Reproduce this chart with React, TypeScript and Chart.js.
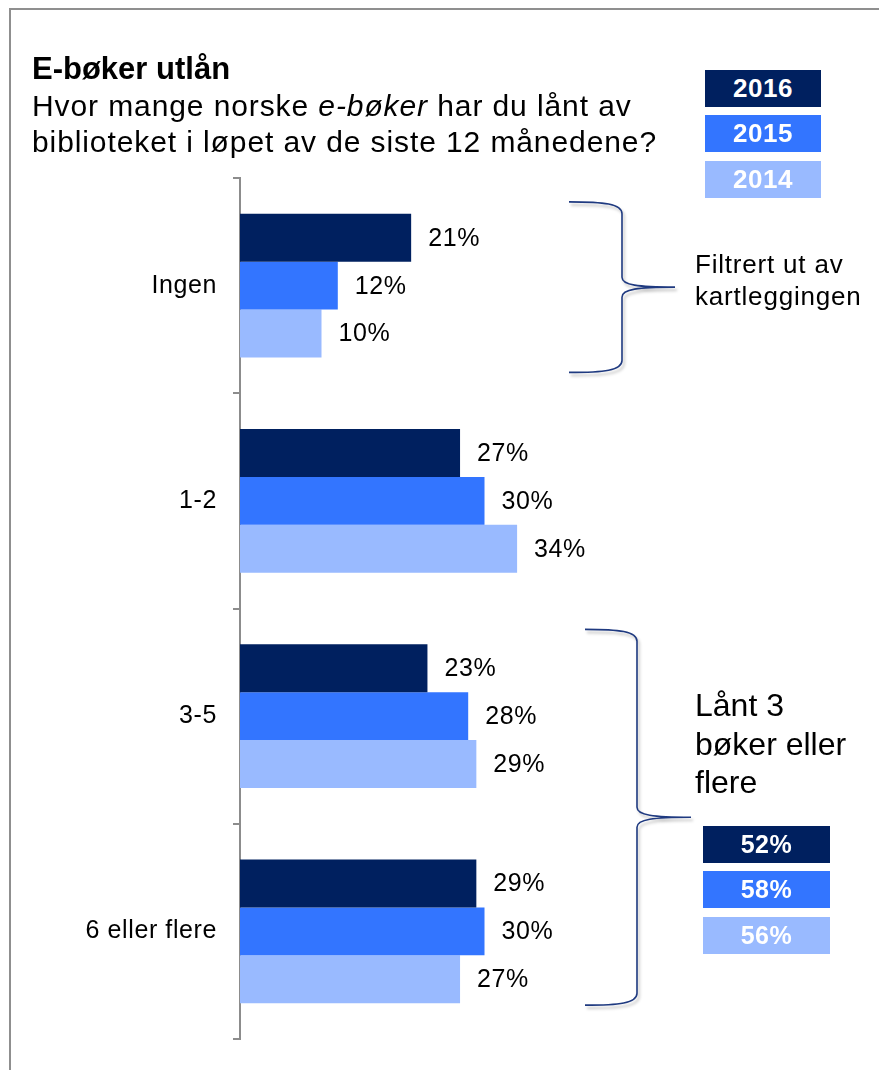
import React, { useEffect, useRef } from "react";
import { Chart, registerables } from "chart.js";

Chart.register(...registerables);

const categories = ["Ingen", "1-2", "3-5", "6 eller flere"];
const years = ["2016", "2015", "2014"];
const values2016 = [21, 27, 23, 29];
const values2015 = [12, 30, 28, 30];
const values2014 = [10, 34, 29, 27];
const yearColors = ["#00205F", "#3375FF", "#99BAFF"];
const summaryValues = [52, 58, 56];

const FONT = "'Liberation Sans', Arial, sans-serif";

const spacingPlugin = {
  id: "letterSpacing",
  beforeDraw(chart: any) {
    chart.ctx.letterSpacing = "0.6px";
  },
};

const dataLabelPlugin = {
  id: "dataLabels",
  afterDatasetsDraw(chart: any) {
    const ctx = chart.ctx;
    ctx.save();
    ctx.font = `25px ${FONT}`;
    ctx.letterSpacing = "0.6px";
    ctx.fillStyle = "#000";
    ctx.textAlign = "left";
    ctx.textBaseline = "middle";
    chart.data.datasets.forEach((ds: any, di: number) => {
      const meta = chart.getDatasetMeta(di);
      meta.data.forEach((el: any, i: number) => {
        ctx.fillText(`${ds.data[i]}%`, el.x + 17, el.y + 1);
      });
    });
    ctx.restore();
  },
};

function drawBrace(ctx: any, x0: number, x1: number, x2: number, top: number, bottom: number) {
  const mid = (top + bottom) / 2;
  ctx.beginPath();
  ctx.moveTo(x0, top);
  ctx.bezierCurveTo(x1 - 18, top, x1, top + 2, x1, top + 12);
  ctx.lineTo(x1, mid - 10);
  ctx.bezierCurveTo(x1, mid - 2, x1 + 16, mid, x2, mid);
  ctx.moveTo(x2, mid);
  ctx.bezierCurveTo(x1 + 16, mid, x1, mid + 2, x1, mid + 10);
  ctx.lineTo(x1, bottom - 12);
  ctx.bezierCurveTo(x1, bottom - 2, x1 - 18, bottom, x0, bottom);
  ctx.stroke();
}

const bracePlugin = {
  id: "braces",
  afterDraw(chart: any) {
    const ctx = chart.ctx;
    const y = chart.scales.y;
    const half = (y.getPixelForValue(1) - y.getPixelForValue(0)) / 2;
    const barHalf = half * 0.667;
    ctx.save();
    ctx.strokeStyle = "#1F3A80";
    ctx.lineWidth = 1.6;
    ctx.shadowColor = "rgba(0,0,0,0.25)";
    ctx.shadowBlur = 3;
    ctx.shadowOffsetX = 2;
    ctx.shadowOffsetY = 3;
    drawBrace(ctx, 569, 622, 675, y.getPixelForValue(0) - barHalf - 12, y.getPixelForValue(0) + barHalf + 15);
    drawBrace(ctx, 585, 637, 691, y.getPixelForValue(2) - barHalf - 15, y.getPixelForValue(3) + barHalf + 2);
    ctx.restore();
  },
};

export default function App() {
  const ref = useRef<HTMLCanvasElement>(null);

  useEffect(() => {
    if (!ref.current) return;
    const chart = new Chart(ref.current, {
      type: "bar",
      data: {
        labels: categories,
        datasets: [values2016, values2015, values2014].map((d, i) => ({
          label: years[i],
          data: d,
          backgroundColor: yearColors[i],
          borderWidth: 0,
          categoryPercentage: 0.667,
          barPercentage: 1,
        })),
      },
      options: {
        indexAxis: "y",
        responsive: false,
        animation: false,
        layout: { padding: { top: 178, bottom: 29, left: 0, right: 150 } },
        plugins: {
          legend: { display: false },
          title: { display: false },
          tooltip: { enabled: false },
        },
        scales: {
          x: { display: false, min: 0, max: 60 },
          y: {
            grid: {
              drawOnChartArea: false,
              drawTicks: true,
              tickLength: 7,
              color: "#8c8c8c",
              lineWidth: 2,
              offset: true,
            },
            border: { display: true, color: "#8c8c8c", width: 2 },
            ticks: {
              color: "#000",
              font: { family: FONT, size: 25 },
              padding: 16,
            },
            afterFit(scale: any) {
              scale.width = 240;
            },
          },
        },
      },
      plugins: [spacingPlugin, dataLabelPlugin, bracePlugin],
    });
    return () => chart.destroy();
  }, []);

  const boxStyle = (bg: string, top: number, left: number, w: number, h: number, size: number): React.CSSProperties => ({
    position: "absolute",
    left,
    top,
    width: w,
    height: h,
    background: bg,
    color: "#fff",
    fontFamily: FONT,
    fontWeight: "bold",
    fontSize: size,
    letterSpacing: "0.5px",
    display: "flex",
    alignItems: "center",
    justifyContent: "center",
  });

  const legendTops = [70, 115, 161];
  const summaryTops = [826, 871, 917];

  return (
    <div style={{ position: "absolute", left: 0, top: 0, width: 879, height: 1070, overflow: "hidden", background: "#fff" }}>
      <div style={{ position: "absolute", left: 9, top: 8, width: 1000, height: 1200, borderLeft: "2px solid #8f8f8f", borderTop: "2px solid #8f8f8f" }} />
      <canvas ref={ref} width={879} height={1070} style={{ position: "absolute", left: 0, top: 0 }} />
      <div style={{ position: "absolute", left: 32, top: 51, fontFamily: FONT, fontWeight: "bold", fontSize: 31, lineHeight: "36px", color: "#000", whiteSpace: "nowrap" }}>
        E-bøker utlån
      </div>
      <div style={{ position: "absolute", left: 32, top: 88, fontFamily: FONT, fontSize: 30, lineHeight: "36px", letterSpacing: "0.9px", color: "#000", whiteSpace: "nowrap" }}>
        Hvor mange norske <i>e-bøker</i> har du lånt av
        <br />
        biblioteket i løpet av de siste 12 månedene?
      </div>
      {years.map((yr, i) => (
        <div key={yr} style={boxStyle(yearColors[i], legendTops[i], 705, 116, 37, 26)}>
          {yr}
        </div>
      ))}
      <div style={{ position: "absolute", left: 695, top: 248, fontFamily: FONT, fontSize: 26, lineHeight: "32px", letterSpacing: "0.8px", color: "#000", whiteSpace: "nowrap" }}>
        Filtrert ut av
        <br />
        kartleggingen
      </div>
      <div style={{ position: "absolute", left: 695, top: 686, fontFamily: FONT, fontSize: 32, lineHeight: "38.5px", color: "#000", whiteSpace: "nowrap" }}>
        Lånt 3
        <br />
        bøker eller
        <br />
        flere
      </div>
      {summaryValues.map((v, i) => (
        <div key={i} style={boxStyle(yearColors[i], summaryTops[i], 703, 127, 37, 25)}>
          {v}%
        </div>
      ))}
    </div>
  );
}
